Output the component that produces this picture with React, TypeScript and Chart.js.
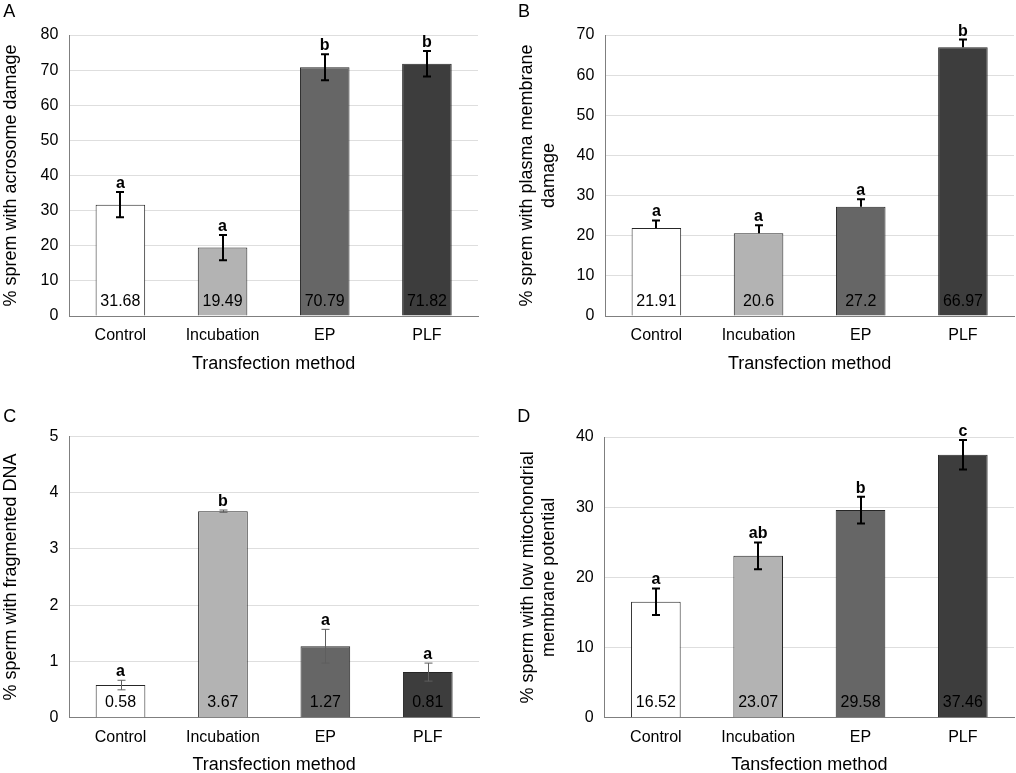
import React, { useEffect, useRef } from "react";
import { Chart, registerables } from "chart.js";

Chart.register(...registerables);

const FONT = "'Liberation Sans', Arial, Helvetica, sans-serif";
Chart.defaults.font.family = FONT;

const categories = ["Control", "Incubation", "EP", "PLF"];
const barColors = ["#ffffff", "#b3b3b3", "#666666", "#3d3d3d"];

const acrosomeValues = [31.68, 19.49, 70.79, 71.82];
const acrosomeErrors = [3.6, 3.6, 3.7, 3.65];
const acrosomeLetters = ["a", "a", "b", "b"];
const acrosomeTicks = { max: 80, step: 10 };

const membraneValues = [21.91, 20.6, 27.2, 66.97];
const membraneErrors = [1.9, 2.0, 1.9, 1.9];
const membraneLetters = ["a", "a", "a", "b"];
const membraneTicks = { max: 70, step: 10 };

const dnaValues = [0.58, 3.67, 1.27, 0.81];
const dnaErrors = [0.085, 0.02, 0.3, 0.16];
const dnaLetters = ["a", "b", "a", "a"];
const dnaTicks = { max: 5, step: 1 };

const mmpValues = [16.52, 23.07, 29.58, 37.46];
const mmpErrors = [1.9, 1.9, 1.9, 2.1];
const mmpLetters = ["a", "ab", "b", "c"];
const mmpTicks = { max: 40, step: 10 };

const W = 508;
const H = 400;

type Panel = {
  letter: string;
  letterX: number;
  letterY: number;
  ox: number;
  oy: number;
  l: number;
  r: number;
  t: number;
  b: number;
  max: number;
  step: number;
  values: number[];
  errors: number[];
  letters: string[];
  plusOnly: boolean;
  thinErr: boolean;
  yTitle: string | string[];
  yTitlePad: number;
  xTitle: string;
};

const panels: Panel[] = [
  {
    letter: "A", letterX: 3.3, letterY: 17.3, ox: 0, oy: 0,
    l: 69.3, r: 478, t: 35, b: 316,
    max: acrosomeTicks.max, step: acrosomeTicks.step,
    values: acrosomeValues, errors: acrosomeErrors, letters: acrosomeLetters,
    plusOnly: false, thinErr: false,
    yTitle: "% sprem with acrosome damage", yTitlePad: 0.3,
    xTitle: "Transfection method",
  },
  {
    letter: "B", letterX: 10, letterY: 17.3, ox: 508, oy: 0,
    l: 97.3, r: 506, t: 35, b: 316,
    max: membraneTicks.max, step: membraneTicks.step,
    values: membraneValues, errors: membraneErrors, letters: membraneLetters,
    plusOnly: true, thinErr: false,
    yTitle: ["% sprem with plasma membrane", "damage"], yTitlePad: 8.5,
    xTitle: "Transfection method",
  },
  {
    letter: "C", letterX: 3.3, letterY: 34.7, ox: 0, oy: 387,
    l: 69.3, r: 479, t: 49.3, b: 330.7,
    max: dnaTicks.max, step: dnaTicks.step,
    values: dnaValues, errors: dnaErrors, letters: dnaLetters,
    plusOnly: false, thinErr: true,
    yTitle: "% sperm with fragmented DNA", yTitlePad: 0.3,
    xTitle: "Transfection method",
  },
  {
    letter: "D", letterX: 9.3, letterY: 34.7, ox: 508, oy: 387,
    l: 96.7, r: 506, t: 50, b: 330.7,
    max: mmpTicks.max, step: mmpTicks.step,
    values: mmpValues, errors: mmpErrors, letters: mmpLetters,
    plusOnly: false, thinErr: false,
    yTitle: ["% sperm with low mitochondrial", "membrane potential"], yTitlePad: 9,
    xTitle: "Tansfection method",
  },
];

function makeOverlay(p: Panel) {
  return {
    id: "overlay" + p.letter,
    afterDatasetsDraw(chart: any) {
      const ctx: CanvasRenderingContext2D = chart.ctx;
      const y = chart.scales.y;
      const meta = chart.getDatasetMeta(0);
      ctx.save();
      meta.data.forEach((bar: any, i: number) => {
        const x = Math.round(bar.x) + (p.thinErr ? 0.5 : 0);
        const v = p.values[i];
        const e = p.errors[i];
        const yHi = y.getPixelForValue(v + e);
        const yLo = y.getPixelForValue(p.plusOnly ? v : v - e);
        ctx.strokeStyle = p.thinErr ? "#5e5e5e" : "#000000";
        ctx.lineWidth = p.thinErr ? 1 : 2;
        ctx.lineCap = "butt";
        ctx.beginPath();
        ctx.moveTo(x, yLo);
        ctx.lineTo(x, yHi);
        ctx.moveTo(x - 4, yHi);
        ctx.lineTo(x + 4, yHi);
        if (!p.plusOnly) {
          ctx.moveTo(x - 4, yLo);
          ctx.lineTo(x + 4, yLo);
        }
        ctx.stroke();

        ctx.fillStyle = "#000000";
        ctx.textAlign = "center";
        ctx.textBaseline = "alphabetic";
        ctx.font = `bold 16px ${FONT}`;
        ctx.fillText(p.letters[i], bar.x, yHi - 4);

        ctx.font = `16px ${FONT}`;
        ctx.fillText(String(v), bar.x, y.getPixelForValue(0) - 10.5);
      });
      ctx.font = `18px ${FONT}`;
      ctx.textAlign = "left";
      ctx.textBaseline = "alphabetic";
      ctx.fillStyle = "#000000";
      ctx.fillText(p.letter, p.letterX, p.letterY);
      ctx.restore();
    },
  };
}

function PanelChart({ p }: { p: Panel }) {
  const ref = useRef<HTMLCanvasElement>(null);
  useEffect(() => {
    if (!ref.current) return;
    const chart = new Chart(ref.current, {
      type: "bar",
      data: {
        labels: categories,
        datasets: [
          {
            data: p.values,
            backgroundColor: barColors,
            borderColor: "#262626",
            borderWidth: 1,
            categoryPercentage: 0.485,
            barPercentage: 1,
          },
        ],
      },
      options: {
        responsive: false,
        animation: false,
        devicePixelRatio: 1,
        events: [],
        layout: {
          padding: { left: 0, top: p.t, right: W - p.r, bottom: H - p.b - 70 },
        },
        plugins: {
          legend: { display: false },
          tooltip: { enabled: false },
        },
        scales: {
          x: {
            type: "category",
            offset: true,
            grid: { display: false, drawTicks: false },
            border: { display: true, color: "#7f7f7f", width: 1 },
            ticks: {
              padding: 10,
              color: "#000000",
              font: { size: 16 },
              maxRotation: 0,
              autoSkip: false,
            },
            title: {
              display: true,
              text: p.xTitle,
              color: "#000000",
              font: { size: 18, lineHeight: 1.2 },
              padding: { top: 0, bottom: 11.5 },
            },
            afterFit(s: any) {
              s.height = 70;
            },
          },
          y: {
            min: 0,
            max: p.max,
            ticks: {
              stepSize: p.step,
              padding: 11,
              color: "#000000",
              font: { size: 16 },
            },
            grid: { color: "#dedede", drawTicks: false, lineWidth: 1 },
            border: { display: true, color: "#7f7f7f", width: 1 },
            title: {
              display: true,
              text: p.yTitle,
              color: "#000000",
              font: { size: 18, lineHeight: 1.2 },
              padding: { top: p.yTitlePad, bottom: 0 },
            },
            afterFit(s: any) {
              s.width = p.l;
            },
          },
        },
      } as any,
      plugins: [makeOverlay(p)],
    });
    return () => chart.destroy();
  }, []);
  return (
    <canvas
      ref={ref}
      width={W}
      height={H}
      style={{ position: "absolute", left: p.ox, top: p.oy, width: W, height: H }}
    />
  );
}

export default function App() {
  return (
    <div
      style={{
        position: "fixed",
        left: 0,
        top: 0,
        width: 1016,
        height: 773,
        overflow: "hidden",
        background: "#ffffff",
      }}
    >
      {panels.map((p) => (
        <PanelChart key={p.letter} p={p} />
      ))}
    </div>
  );
}
